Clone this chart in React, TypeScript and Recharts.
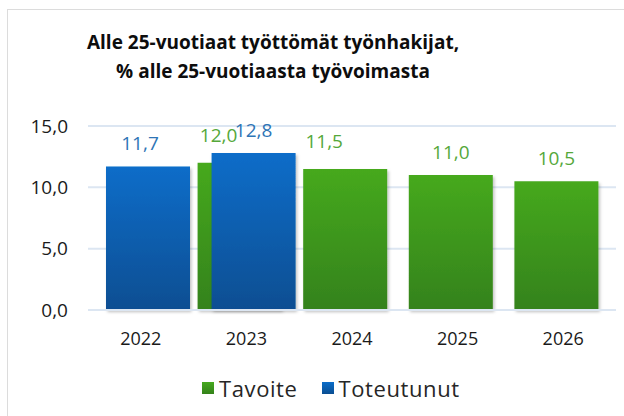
import React from 'react';
import { BarChart, Bar, XAxis, YAxis, CartesianGrid, Legend, LabelList } from 'recharts';

const categories = ['2022', '2023', '2024', '2025', '2026'];
const tavoite: (number | null)[] = [null, 12.0, 11.5, 11.0, 10.5];
const toteutunut: (number | null)[] = [11.7, 12.8, null, null, null];
const yTicks = [0, 5, 10, 15];
const seriesNames = { tavoite: 'Tavoite', toteutunut: 'Toteutunut' };

const data = categories.map((c, i) => ({
  year: c,
  tavoite: tavoite[i],
  toteutunut: toteutunut[i],
}));

const fmt = (v: number) => v.toFixed(1).replace('.', ',');
const FONT = '"Open Sans", sans-serif';
const GREEN_LABEL = '#55A83A';
const BLUE_LABEL = '#2E75B6';

const makeLabel = (color: string, isGreen: boolean) => (props: any) => {
  const { x, y, width, value, index } = props;
  if (value == null) return null;
  let dx = 0;
  let dy = 0;
  if (isGreen && toteutunut[index] != null) {
    dx = -21;
    dy = -5;
  }
  if (!isGreen && tavoite[index] == null) {
    dx = -8;
  }
  return (
    <text
      x={x + width / 2 + dx}
      y={y - 23 + dy}
      textAnchor="middle"
      dominantBaseline="central"
      fill={color}
      fontSize={19}
      fontFamily={FONT}
    >
      {fmt(value)}
    </text>
  );
};

const renderLegend = () => (
  <div style={{ display: 'flex', alignItems: 'center', fontFamily: FONT, fontSize: 22, letterSpacing: 0.6, color: '#262626', whiteSpace: 'nowrap' }}>
    {(['tavoite', 'toteutunut'] as const).map((k, i) => (
      <div key={k} style={{ display: 'flex', alignItems: 'center', marginRight: i === 0 ? 24 : 0 }}>
        <div
          style={{
            width: 12,
            height: 12,
            marginRight: 5,
            background: k === 'tavoite' ? 'linear-gradient(#46A91F, #34821A)' : 'linear-gradient(#0B6DC9, #0A4E92)',
          }}
        />
        <span>{seriesNames[k]}</span>
      </div>
    ))}
  </div>
);

export default function App() {
  return (
    <div style={{ position: 'absolute', left: 0, top: 0, width: 624, height: 416, background: '#fff', overflow: 'hidden' }}>
      <div
        style={{
          position: 'absolute',
          left: 7,
          top: 9,
          width: 700,
          height: 500,
          borderLeft: '1px solid #DCDCDC',
          borderTop: '1px solid #DCDCDC',
        }}
      />
      <div
        style={{
          position: 'absolute',
          left: 73,
          width: 400,
          top: 28,
          textAlign: 'center',
          fontFamily: FONT,
          fontWeight: 700,
          fontSize: 19,
          lineHeight: '29px',
          color: '#0D0D0D',
        }}
      >
        Alle 25-vuotiaat työttömät työnhakijat,
        <br />% alle 25-vuotiaasta työvoimasta
      </div>
      <div style={{ position: 'absolute', left: 0, top: 0 }}>
        <BarChart
          width={624}
          height={416}
          data={data}
          margin={{ top: 126, right: 8, bottom: 76, left: 0 }}
          barGap={-70}
          barSize={84}
        >
          <defs>
            <linearGradient id="gradG" x1="0" y1="0" x2="0" y2="1">
              <stop offset="0%" stopColor="#46A91F" />
              <stop offset="100%" stopColor="#34821A" />
            </linearGradient>
            <linearGradient id="gradB" x1="0" y1="0" x2="0" y2="1">
              <stop offset="0%" stopColor="#0B6DC9" />
              <stop offset="100%" stopColor="#0A4E92" />
            </linearGradient>
            <filter id="shadow" x="-10%" y="-10%" width="130%" height="130%">
              <feDropShadow dx="1.5" dy="2" stdDeviation="1.5" floodColor="#000" floodOpacity="0.25" />
            </filter>
          </defs>
          <CartesianGrid vertical={false} stroke="#DCE6F2" strokeWidth={2} />
          <XAxis
            dataKey="year"
            axisLine={{ stroke: '#DCE6F2', strokeWidth: 2 }}
            tickLine={false}
            tickSize={0}
            tickMargin={22}
            height={30}
            tick={{ fontSize: 18, fontFamily: FONT, fill: '#1A1A1A' }}
          />
          <YAxis
            width={88}
            domain={[0, 15]}
            ticks={yTicks}
            tickFormatter={fmt}
            axisLine={false}
            tickLine={false}
            tickSize={0}
            tickMargin={20}
            tick={{ fontSize: 19, fontFamily: FONT, fill: '#1A1A1A' }}
          />
          <Legend
            layout="vertical"
            align="center"
            verticalAlign="middle"
            content={renderLegend}
            wrapperStyle={{ position: 'absolute', left: 202, top: 373, width: 'auto', height: 'auto' }}
          />
          <Bar dataKey="tavoite" name={seriesNames.tavoite} fill="url(#gradG)" filter="url(#shadow)" isAnimationActive={false}>
            <LabelList dataKey="tavoite" content={makeLabel(GREEN_LABEL, true)} />
          </Bar>
          <Bar dataKey="toteutunut" name={seriesNames.toteutunut} fill="url(#gradB)" filter="url(#shadow)" isAnimationActive={false}>
            <LabelList dataKey="toteutunut" content={makeLabel(BLUE_LABEL, false)} />
          </Bar>
        </BarChart>
      </div>
    </div>
  );
}
